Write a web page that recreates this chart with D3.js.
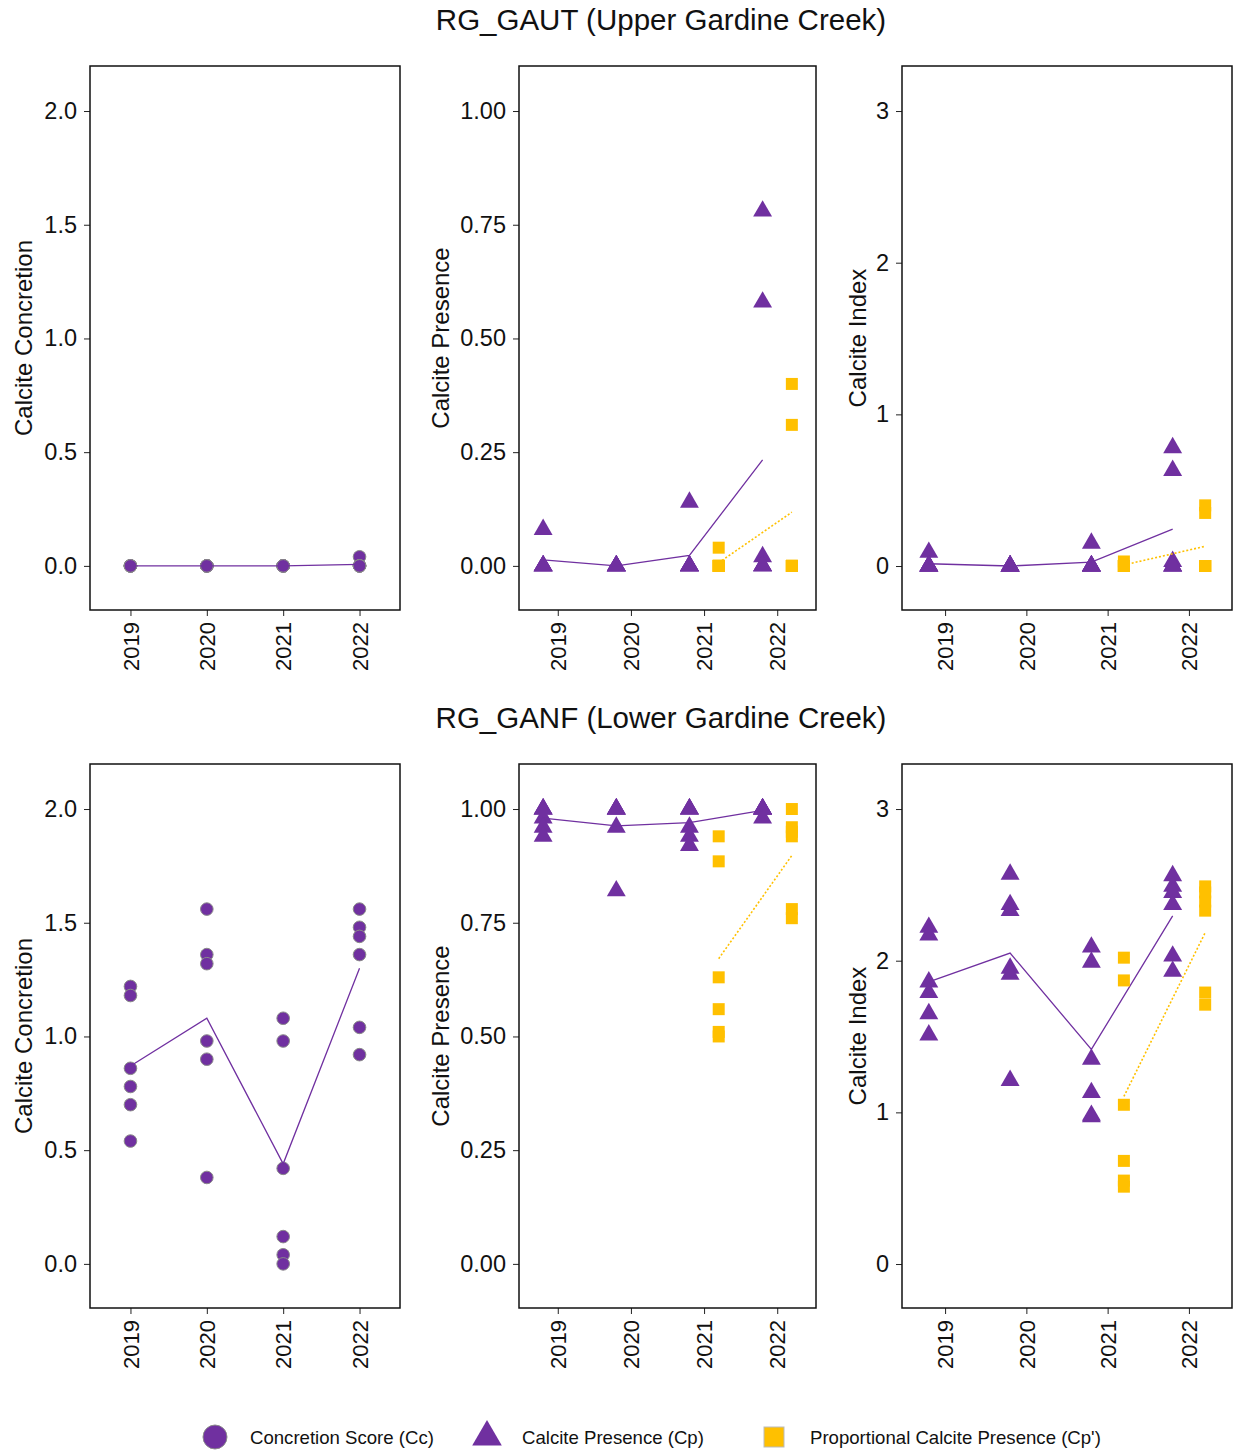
<!DOCTYPE html>
<html>
<head>
<meta charset="utf-8">
<script src="https://cdn.jsdelivr.net/npm/d3@7"></script>
<style>
  html, body { margin: 0; padding: 0; background: #fff; }
  svg { display: block; font-family: "Liberation Sans", Arial, Helvetica, sans-serif; }
</style>
</head>
<body>
<script>
// ---- Sampling years and axis labels ----
const years = [2019, 2020, 2021, 2022];
const yearLabels = ["2019", "2020", "2021", "2022"];

const concTicks = [0, 0.5, 1, 1.5, 2];
const concTickLabels = ["0.0", "0.5", "1.0", "1.5", "2.0"];
const presTicks = [0, 0.25, 0.5, 0.75, 1];
const presTickLabels = ["0.00", "0.25", "0.50", "0.75", "1.00"];
const indexTicks = [0, 1, 2, 3];
const indexTickLabels = ["0", "1", "2", "3"];

// ---- RG_GAUT (Upper Gardine Creek): six samples per year ----
const gautConc = [[0, 0, 0, 0, 0, 0], [0, 0, 0, 0, 0, 0], [0, 0, 0, 0, 0, 0], [0.04, 0, 0, 0, 0, 0]];
const gautConcMean = [0, 0, 0, 0.007];
const gautPres = [[0.08, 0, 0, 0, 0, 0], [0, 0, 0, 0, 0, 0], [0.14, 0, 0, 0, 0, 0], [0.78, 0.58, 0.02, 0, 0, 0]];
const gautPresMean = [0.013, 0, 0.023, 0.233];
const gautPropPres = [null, null, [0.04, 0, 0, 0, 0, 0], [0.40, 0.31, 0, 0, 0, 0]];
const gautPropPresMean = [null, null, 0.007, 0.118];
const gautIndex = [[0.09, 0, 0, 0, 0, 0], [0, 0, 0, 0, 0, 0], [0.15, 0, 0, 0, 0, 0], [0.78, 0.63, 0.03, 0, 0, 0]];
const gautIndexMean = [0.015, 0, 0.025, 0.243];
const gautPropIndex = [null, null, [0.03, 0, 0, 0, 0, 0], [0.40, 0.35, 0, 0, 0, 0]];
const gautPropIndexMean = [null, null, 0.007, 0.13];

// ---- RG_GANF (Lower Gardine Creek): six samples per year ----
const ganfConc = [[1.22, 1.18, 0.86, 0.78, 0.70, 0.54], [1.56, 1.36, 1.32, 0.98, 0.90, 0.38], [1.08, 0.98, 0.42, 0.12, 0.04, 0], [1.56, 1.48, 1.44, 1.36, 1.04, 0.92]];
const ganfConcMean = [0.87, 1.08, 0.44, 1.30];
const ganfPres = [[1, 1, 0.98, 0.96, 0.94, 1], [1, 1, 1, 0.96, 0.82, 1], [1, 1, 0.96, 0.94, 0.92, 1], [1, 1, 1, 1, 0.98, 1]];
const ganfPresMean = [0.98, 0.963, 0.97, 0.997];
const ganfPropPres = [null, null, [0.94, 0.885, 0.63, 0.56, 0.51, 0.50], [1.0, 0.96, 0.95, 0.94, 0.78, 0.76]];
const ganfPropPresMean = [null, null, 0.671, 0.898];
const ganfIndex = [[2.22, 2.17, 1.86, 1.79, 1.65, 1.51], [2.57, 2.37, 2.33, 1.95, 1.91, 1.21], [2.09, 1.99, 1.35, 1.13, 0.98, 0.97], [2.56, 2.49, 2.45, 2.37, 2.03, 1.93]];
const ganfIndexMean = [1.86, 2.05, 1.415, 2.295];
const ganfPropIndex = [null, null, [2.02, 1.87, 1.05, 0.68, 0.55, 0.51], [2.49, 2.45, 2.39, 2.33, 1.79, 1.71]];
const ganfPropIndexMean = [null, null, 1.105, 2.185];

const siteTitles = ["RG_GAUT (Upper Gardine Creek)", "RG_GANF (Lower Gardine Creek)"];
const legendLabels = ["Concretion Score (Cc)", "Calcite Presence (Cp)", "Proportional Calcite Presence (Cp')"];

// ---- Styling ----
const PURPLE = "#7030A0";
const GOLD = "#FFC000";
const W = 1236, H = 1452;

const svg = d3.select("body").append("svg").attr("width", W).attr("height", H);

// panel frame positions (columns, rows)
const colX = [[90, 400], [519, 816], [902, 1232]];
const rowY = [[66, 610], [764, 1308]];
const titleX = [32, 449, 866];
const xDomain = [2018.47, 2022.53];

const yDomains = [[-0.194, 2.198], [-0.097, 1.099], [-0.29, 3.297]];
const yTickSets = [[concTicks, concTickLabels], [presTicks, presTickLabels], [indexTicks, indexTickLabels]];
const yTitles = ["Calcite Concretion", "Calcite Presence", "Calcite Index"];

const sites = [
  [
    [{ vals: gautConc, mean: gautConcMean, shape: "circle", dx: 0 }],
    [{ vals: gautPres, mean: gautPresMean, shape: "triangle", dx: -0.2 },
     { vals: gautPropPres, mean: gautPropPresMean, shape: "square", dx: 0.2 }],
    [{ vals: gautIndex, mean: gautIndexMean, shape: "triangle", dx: -0.2 },
     { vals: gautPropIndex, mean: gautPropIndexMean, shape: "square", dx: 0.2 }]
  ],
  [
    [{ vals: ganfConc, mean: ganfConcMean, shape: "circle", dx: 0 }],
    [{ vals: ganfPres, mean: ganfPresMean, shape: "triangle", dx: -0.2 },
     { vals: ganfPropPres, mean: ganfPropPresMean, shape: "square", dx: 0.2 }],
    [{ vals: ganfIndex, mean: ganfIndexMean, shape: "triangle", dx: -0.2 },
     { vals: ganfPropIndex, mean: ganfPropIndexMean, shape: "square", dx: 0.2 }]
  ]
];

const triPath = d3.symbol().type(d3.symbolTriangle).size(155)();
const sqPath = d3.symbol().type(d3.symbolSquare).size(144)();

function drawMark(g, shape, cx, cy) {
  if (shape === "circle") {
    g.append("circle").attr("cx", cx).attr("cy", cy).attr("r", 6.3)
      .attr("fill", PURPLE).attr("stroke", "#8a8a8a").attr("stroke-width", 1);
  } else if (shape === "triangle") {
    g.append("path").attr("d", triPath).attr("transform", `translate(${cx},${cy})`)
      .attr("fill", PURPLE);
  } else {
    g.append("path").attr("d", sqPath).attr("transform", `translate(${cx},${cy})`)
      .attr("fill", GOLD);
  }
}

// site headings
siteTitles.forEach((t, r) => {
  svg.append("text").attr("x", 661).attr("y", r === 0 ? 30 : 728)
    .attr("text-anchor", "middle").attr("font-size", 29.5).attr("fill", "#111").text(t);
});

sites.forEach((row, r) => {
  row.forEach((series, c) => {
    const [x0, x1] = colX[c];
    const [y0, y1] = rowY[r];
    const x = d3.scaleLinear().domain(xDomain).range([x0, x1]);
    const y = d3.scaleLinear().domain(yDomains[c]).range([y1, y0]);
    const g = svg.append("g");

    // y axis
    const [tv, tl] = yTickSets[c];
    const yAxis = g.append("g").attr("transform", `translate(${x0},0)`)
      .call(d3.axisLeft(y).tickValues(tv).tickFormat((d, i) => tl[i]).tickSize(6).tickPadding(7));
    yAxis.select(".domain").remove();
    yAxis.selectAll("line").attr("stroke", "#222");
    yAxis.selectAll("text").attr("font-size", 23.5).attr("fill", "#111")
      .style("font-family", '"Liberation Sans", Arial, sans-serif');

    // x axis
    const xAxis = g.append("g").attr("transform", `translate(0,${y1})`)
      .call(d3.axisBottom(x).tickValues(years).tickFormat((d, i) => yearLabels[i]).tickSize(6));
    xAxis.select(".domain").remove();
    xAxis.selectAll("line").attr("stroke", "#222");
    xAxis.selectAll("text")
      .attr("font-size", 22).attr("fill", "#111")
      .style("font-family", '"Liberation Sans", Arial, sans-serif')
      .attr("text-anchor", "end")
      .attr("y", 0).attr("x", 0).attr("dy", "0.35em")
      .attr("transform", "translate(0,12) rotate(-90)");

    // axis title
    g.append("text")
      .attr("transform", `translate(${titleX[c]},${(y0 + y1) / 2}) rotate(-90)`)
      .attr("text-anchor", "middle").attr("font-size", 24).attr("fill", "#111")
      .text(yTitles[c]);

    // points and mean lines
    series.forEach(s => {
      const col = s.shape === "square" ? GOLD : PURPLE;
      years.forEach((yr, i) => {
        if (!s.vals[i]) return;
        s.vals[i].forEach(v => drawMark(g, s.shape, x(yr + s.dx), y(v)));
      });
      const pts = years.map((yr, i) => [yr + s.dx, s.mean[i]]).filter(p => p[1] !== null);
      const line = d3.line().x(p => x(p[0])).y(p => y(p[1]));
      g.append("path").attr("d", line(pts)).attr("fill", "none")
        .attr("stroke", col)
        .attr("stroke-width", s.shape === "square" ? 1.6 : 1.3)
        .attr("stroke-dasharray", s.shape === "square" ? "2,2" : null);
    });

    // panel border
    g.append("rect").attr("x", x0).attr("y", y0).attr("width", x1 - x0).attr("height", y1 - y0)
      .attr("fill", "none").attr("stroke", "#111").attr("stroke-width", 1.5);
  });
});

// legend
const lg = svg.append("g").attr("font-size", 18.6).attr("fill", "#111");
lg.append("circle").attr("cx", 215).attr("cy", 1437).attr("r", 12)
  .attr("fill", PURPLE).attr("stroke", "#8a8a8a").attr("stroke-width", 1);
lg.append("text").attr("x", 250).attr("y", 1437).attr("dy", "0.35em").text(legendLabels[0]);
lg.append("path").attr("d", d3.symbol().type(d3.symbolTriangle).size(380)())
  .attr("transform", "translate(487,1437)").attr("fill", PURPLE);
lg.append("text").attr("x", 522).attr("y", 1437).attr("dy", "0.35em").text(legendLabels[1]);
lg.append("rect").attr("x", 764).attr("y", 1427).attr("width", 20).attr("height", 20)
  .attr("fill", GOLD).attr("stroke", "#bbbbbb").attr("stroke-width", 1);
lg.append("text").attr("x", 810).attr("y", 1437).attr("dy", "0.35em").text(legendLabels[2]);
</script>
</body>
</html>
